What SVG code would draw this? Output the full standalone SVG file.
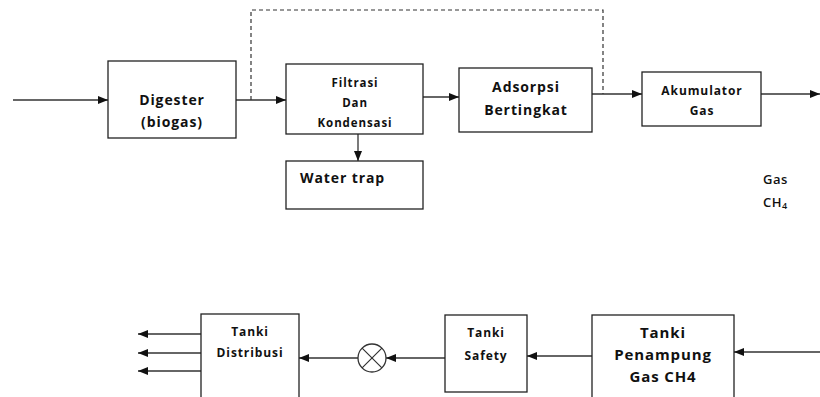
<svg xmlns="http://www.w3.org/2000/svg" width="820" height="397" viewBox="0 0 820 397">
  <style>
    .box { fill: #fff; stroke: #222; stroke-width: 1.3; }
    .t { font-family: "Open Sans", "Liberation Sans", sans-serif; font-weight: bold; fill: #111; text-anchor: middle; letter-spacing: 0.9px; }
    .lbl { font-family: "Open Sans", "Liberation Sans", sans-serif; font-weight: 600; fill: #111; letter-spacing: 0.5px; }
    .c { fill: none; stroke: #333; stroke-width: 1.3; }
    .dash { fill: none; stroke: #333; stroke-width: 1.2; stroke-dasharray: 4 3; }
  </style>
  <defs>
    <marker id="ah" markerUnits="userSpaceOnUse" markerWidth="10" markerHeight="10" viewBox="0 0 10 10" refX="10" refY="5" orient="auto">
      <path d="M0,1 L10,5 L0,9 Z" fill="#111"/>
    </marker>
  </defs>

  <g id="connectors">
    <path class="c" d="M13,100 H108" marker-end="url(#ah)"/>
    <path class="c" d="M236,100 H286" marker-end="url(#ah)"/>
    <path class="c" d="M358,134 V161" marker-end="url(#ah)"/>
    <path class="c" d="M423,97 H459" marker-end="url(#ah)"/>
    <path class="c" d="M592,94 H642" marker-end="url(#ah)"/>
    <path class="c" d="M761,94 H820" marker-end="url(#ah)"/>
    <path class="dash" d="M251,100 V10 H603 V94"/>
    <path class="c" d="M820,352 H734" marker-end="url(#ah)"/>
    <path class="c" d="M592,356 H527" marker-end="url(#ah)"/>
    <path class="c" d="M445,358 H386" marker-end="url(#ah)"/>
    <path class="c" d="M358,358 H299" marker-end="url(#ah)"/>
    <path class="c" d="M201,334 H138" marker-end="url(#ah)"/>
    <path class="c" d="M201,353 H138" marker-end="url(#ah)"/>
    <path class="c" d="M201,371 H138" marker-end="url(#ah)"/>
  </g>

  <g id="digester">
    <rect class="box" x="108" y="61" width="128" height="77"/>
    <text class="t" x="172" y="105" font-size="14">Digester</text>
    <text class="t" x="172" y="127" font-size="14">(biogas)</text>
  </g>

  <g id="filtrasi">
    <rect class="box" x="286" y="64" width="137" height="70"/>
    <text class="t" x="355" y="87" font-size="11.5">Filtrasi</text>
    <text class="t" x="355" y="107" font-size="11.5">Dan</text>
    <text class="t" x="355" y="127" font-size="11.5">Kondensasi</text>
  </g>

  <g id="water-trap">
    <rect class="box" x="286" y="161" width="137" height="48"/>
    <text class="t" x="300" y="183" font-size="14" style="text-anchor:start">Water trap</text>
  </g>

  <g id="adsorpsi">
    <rect class="box" x="459" y="68" width="133" height="64"/>
    <text class="t" x="526" y="92" font-size="14">Adsorpsi</text>
    <text class="t" x="526" y="115" font-size="14">Bertingkat</text>
  </g>

  <g id="akumulator">
    <rect class="box" x="642" y="72" width="119" height="54"/>
    <text class="t" x="702" y="95" font-size="12">Akumulator</text>
    <text class="t" x="702" y="115" font-size="12">Gas</text>
  </g>

  <g id="gas-ch4-label">
    <text class="lbl" x="763" y="184" font-size="13">Gas</text>
    <text class="lbl" x="763" y="207" font-size="13">CH<tspan font-size="9" dy="2">4</tspan></text>
  </g>

  <g id="penampung">
    <rect class="box" x="592" y="315" width="142" height="90"/>
    <text class="t" x="663" y="338" font-size="15">Tanki</text>
    <text class="t" x="663" y="360" font-size="15">Penampung</text>
    <text class="t" x="663" y="382" font-size="15">Gas CH4</text>
  </g>

  <g id="safety">
    <rect class="box" x="445" y="315" width="82" height="77"/>
    <text class="t" x="486" y="337" font-size="12">Tanki</text>
    <text class="t" x="486" y="360" font-size="12">Safety</text>
  </g>

  <g id="valve">
    <circle cx="372" cy="358" r="14" fill="#fff" stroke="#333" stroke-width="1.3"/>
    <path d="M362.1,348.1 L381.9,367.9 M381.9,348.1 L362.1,367.9" stroke="#333" stroke-width="1.2"/>
  </g>

  <g id="distribusi">
    <rect class="box" x="201" y="314" width="98" height="90"/>
    <text class="t" x="250" y="336" font-size="12">Tanki</text>
    <text class="t" x="250" y="357" font-size="12">Distribusi</text>
  </g>
</svg>
